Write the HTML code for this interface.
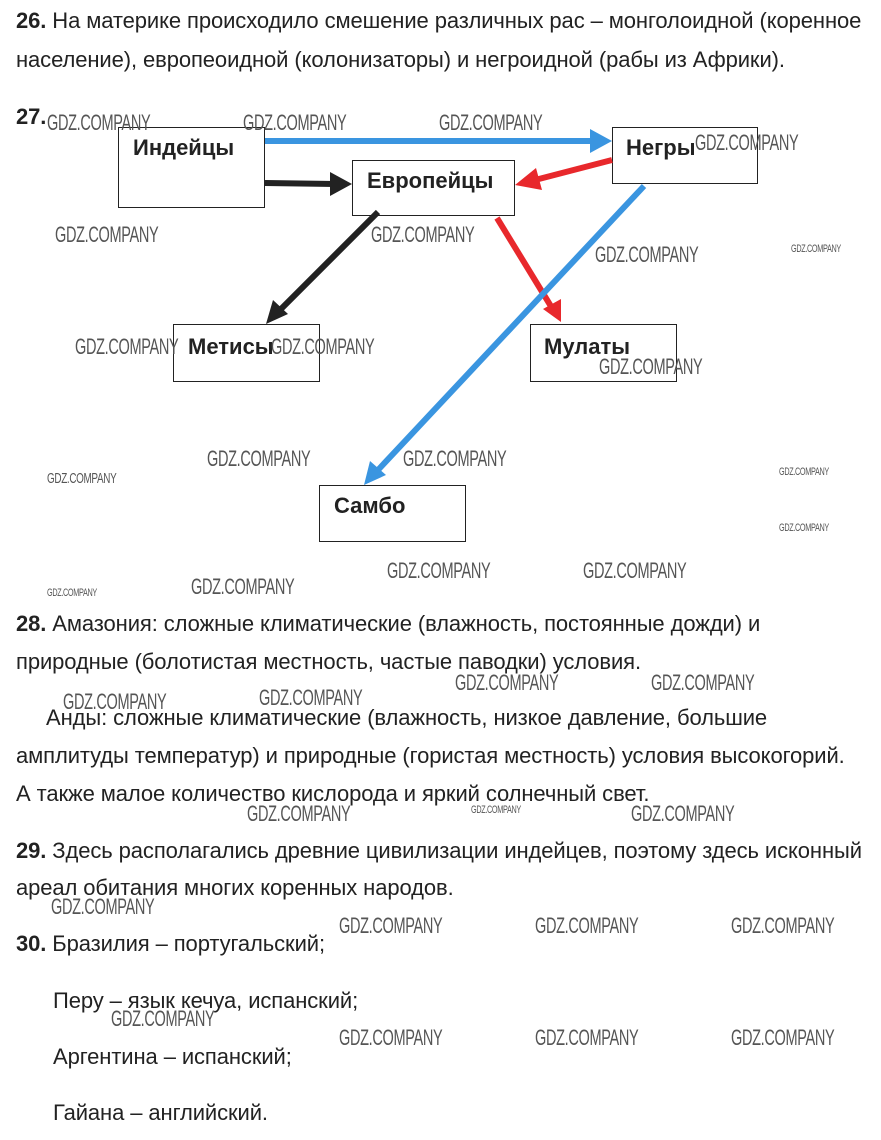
<!DOCTYPE html>
<html><head><meta charset="utf-8"><style>
body{margin:0;width:881px;height:1140px;background:#fff;position:relative;overflow:hidden;font-family:"Liberation Sans",sans-serif;color:#222;}
.t{position:absolute;left:16px;font-size:22px;white-space:nowrap;letter-spacing:-0.1px;}
.w{position:absolute;font-family:"Liberation Sans Narrow","Liberation Sans",sans-serif;font-size:22px;color:#555;transform:scaleX(0.66);transform-origin:0 0;white-space:nowrap;letter-spacing:-0.5px;}
.ws{font-size:11px;}
.box{position:absolute;border:1px solid #222;background:#fff;box-sizing:border-box;}
.bl{position:absolute;font-weight:bold;font-size:22px;color:#222;}
</style></head><body>
<div class="t" style="top:8px"><b>26.</b> На материке происходило смешение различных рас – монголоидной (коренное</div>
<div class="t" style="top:47px">население), европеоидной (колонизаторы) и негроидной (рабы из Африки).</div>
<div class="t" style="top:104px;font-weight:bold">27.</div>
<div class="box" style="left:118px;top:127px;width:147px;height:81px"></div>
<div class="box" style="left:352px;top:160px;width:163px;height:56px"></div>
<div class="box" style="left:612px;top:127px;width:146px;height:57px"></div>
<div class="box" style="left:173px;top:324px;width:147px;height:58px"></div>
<div class="box" style="left:530px;top:324px;width:147px;height:58px"></div>
<div class="box" style="left:319px;top:485px;width:147px;height:57px"></div>
<svg width="881" height="1140" style="position:absolute;left:0;top:0">
<g stroke-width="6" fill="none">
<line x1="265" y1="141" x2="592" y2="141" stroke="#3a95e0"/>
<line x1="265" y1="183" x2="335" y2="184" stroke="#222"/>
<line x1="612" y1="160" x2="535" y2="180" stroke="#e8282c"/>
<line x1="378" y1="212" x2="280" y2="310" stroke="#222"/>
<line x1="497" y1="218" x2="552" y2="308" stroke="#e8282c"/>
<line x1="644" y1="186" x2="378" y2="470" stroke="#3a95e0"/>
</g>
<polygon points="612,141 590,129 590,153" fill="#3a95e0"/>
<polygon points="352,184 330,172 330,196" fill="#222"/>
<polygon points="515,185 536,168 542,190" fill="#e8282c"/>
<polygon points="266,324 273,300 288,314" fill="#222"/>
<polygon points="561,322 543,309 561,299" fill="#e8282c"/>
<polygon points="364,485 370,461 386,475" fill="#3a95e0"/>
</svg>
<div class="bl" style="left:133px;top:135px">Индейцы</div>
<div class="bl" style="left:367px;top:168px">Европейцы</div>
<div class="bl" style="left:626px;top:135px">Негры</div>
<div class="bl" style="left:188px;top:334px">Метисы</div>
<div class="bl" style="left:544px;top:334px">Мулаты</div>
<div class="bl" style="left:334px;top:493px">Самбо</div>
<div class="t" style="top:611px"><b>28.</b> Амазония: сложные климатические (влажность, постоянные дожди) и</div>
<div class="t" style="top:649px">природные (болотистая местность, частые паводки) условия.</div>
<div class="t" style="top:705px;left:46px">Анды: сложные климатические (влажность, низкое давление, большие</div>
<div class="t" style="top:743px">амплитуды температур) и природные (гористая местность) условия высокогорий.</div>
<div class="t" style="top:781px">А также малое количество кислорода и яркий солнечный свет.</div>
<div class="t" style="top:838px"><b>29.</b> Здесь располагались древние цивилизации индейцев, поэтому здесь исконный</div>
<div class="t" style="top:875px">ареал обитания многих коренных народов.</div>
<div class="t" style="top:931px"><b>30.</b> Бразилия – португальский;</div>
<div class="t" style="top:988px;left:53px">Перу – язык кечуа, испанский;</div>
<div class="t" style="top:1044px;left:53px">Аргентина – испанский;</div>
<div class="t" style="top:1100px;left:53px">Гайана – английский.</div>
<div class="w" style="left:47px;top:110px">GDZ.COMPANY</div>
<div class="w" style="left:243px;top:110px">GDZ.COMPANY</div>
<div class="w" style="left:439px;top:110px">GDZ.COMPANY</div>
<div class="w" style="left:695px;top:130px">GDZ.COMPANY</div>
<div class="w" style="left:55px;top:222px">GDZ.COMPANY</div>
<div class="w" style="left:371px;top:222px">GDZ.COMPANY</div>
<div class="w" style="left:595px;top:242px">GDZ.COMPANY</div>
<div class="w ws" style="left:791px;top:243px">GDZ.COMPANY</div>
<div class="w" style="left:75px;top:334px">GDZ.COMPANY</div>
<div class="w" style="left:271px;top:334px">GDZ.COMPANY</div>
<div class="w" style="left:599px;top:354px">GDZ.COMPANY</div>
<div class="w" style="left:207px;top:446px">GDZ.COMPANY</div>
<div class="w" style="left:403px;top:446px">GDZ.COMPANY</div>
<div class="w ws" style="left:47px;top:470px;font-size:15px">GDZ.COMPANY</div>
<div class="w ws" style="left:779px;top:466px">GDZ.COMPANY</div>
<div class="w ws" style="left:779px;top:522px">GDZ.COMPANY</div>
<div class="w" style="left:191px;top:574px">GDZ.COMPANY</div>
<div class="w" style="left:387px;top:558px">GDZ.COMPANY</div>
<div class="w" style="left:583px;top:558px">GDZ.COMPANY</div>
<div class="w ws" style="left:47px;top:587px">GDZ.COMPANY</div>
<div class="w" style="left:63px;top:689px">GDZ.COMPANY</div>
<div class="w" style="left:259px;top:685px">GDZ.COMPANY</div>
<div class="w" style="left:455px;top:670px">GDZ.COMPANY</div>
<div class="w" style="left:651px;top:670px">GDZ.COMPANY</div>
<div class="w" style="left:247px;top:801px">GDZ.COMPANY</div>
<div class="w ws" style="left:471px;top:804px">GDZ.COMPANY</div>
<div class="w" style="left:631px;top:801px">GDZ.COMPANY</div>
<div class="w" style="left:51px;top:894px">GDZ.COMPANY</div>
<div class="w" style="left:339px;top:913px">GDZ.COMPANY</div>
<div class="w" style="left:535px;top:913px">GDZ.COMPANY</div>
<div class="w" style="left:731px;top:913px">GDZ.COMPANY</div>
<div class="w" style="left:111px;top:1006px">GDZ.COMPANY</div>
<div class="w" style="left:339px;top:1025px">GDZ.COMPANY</div>
<div class="w" style="left:535px;top:1025px">GDZ.COMPANY</div>
<div class="w" style="left:731px;top:1025px">GDZ.COMPANY</div>
</body></html>
